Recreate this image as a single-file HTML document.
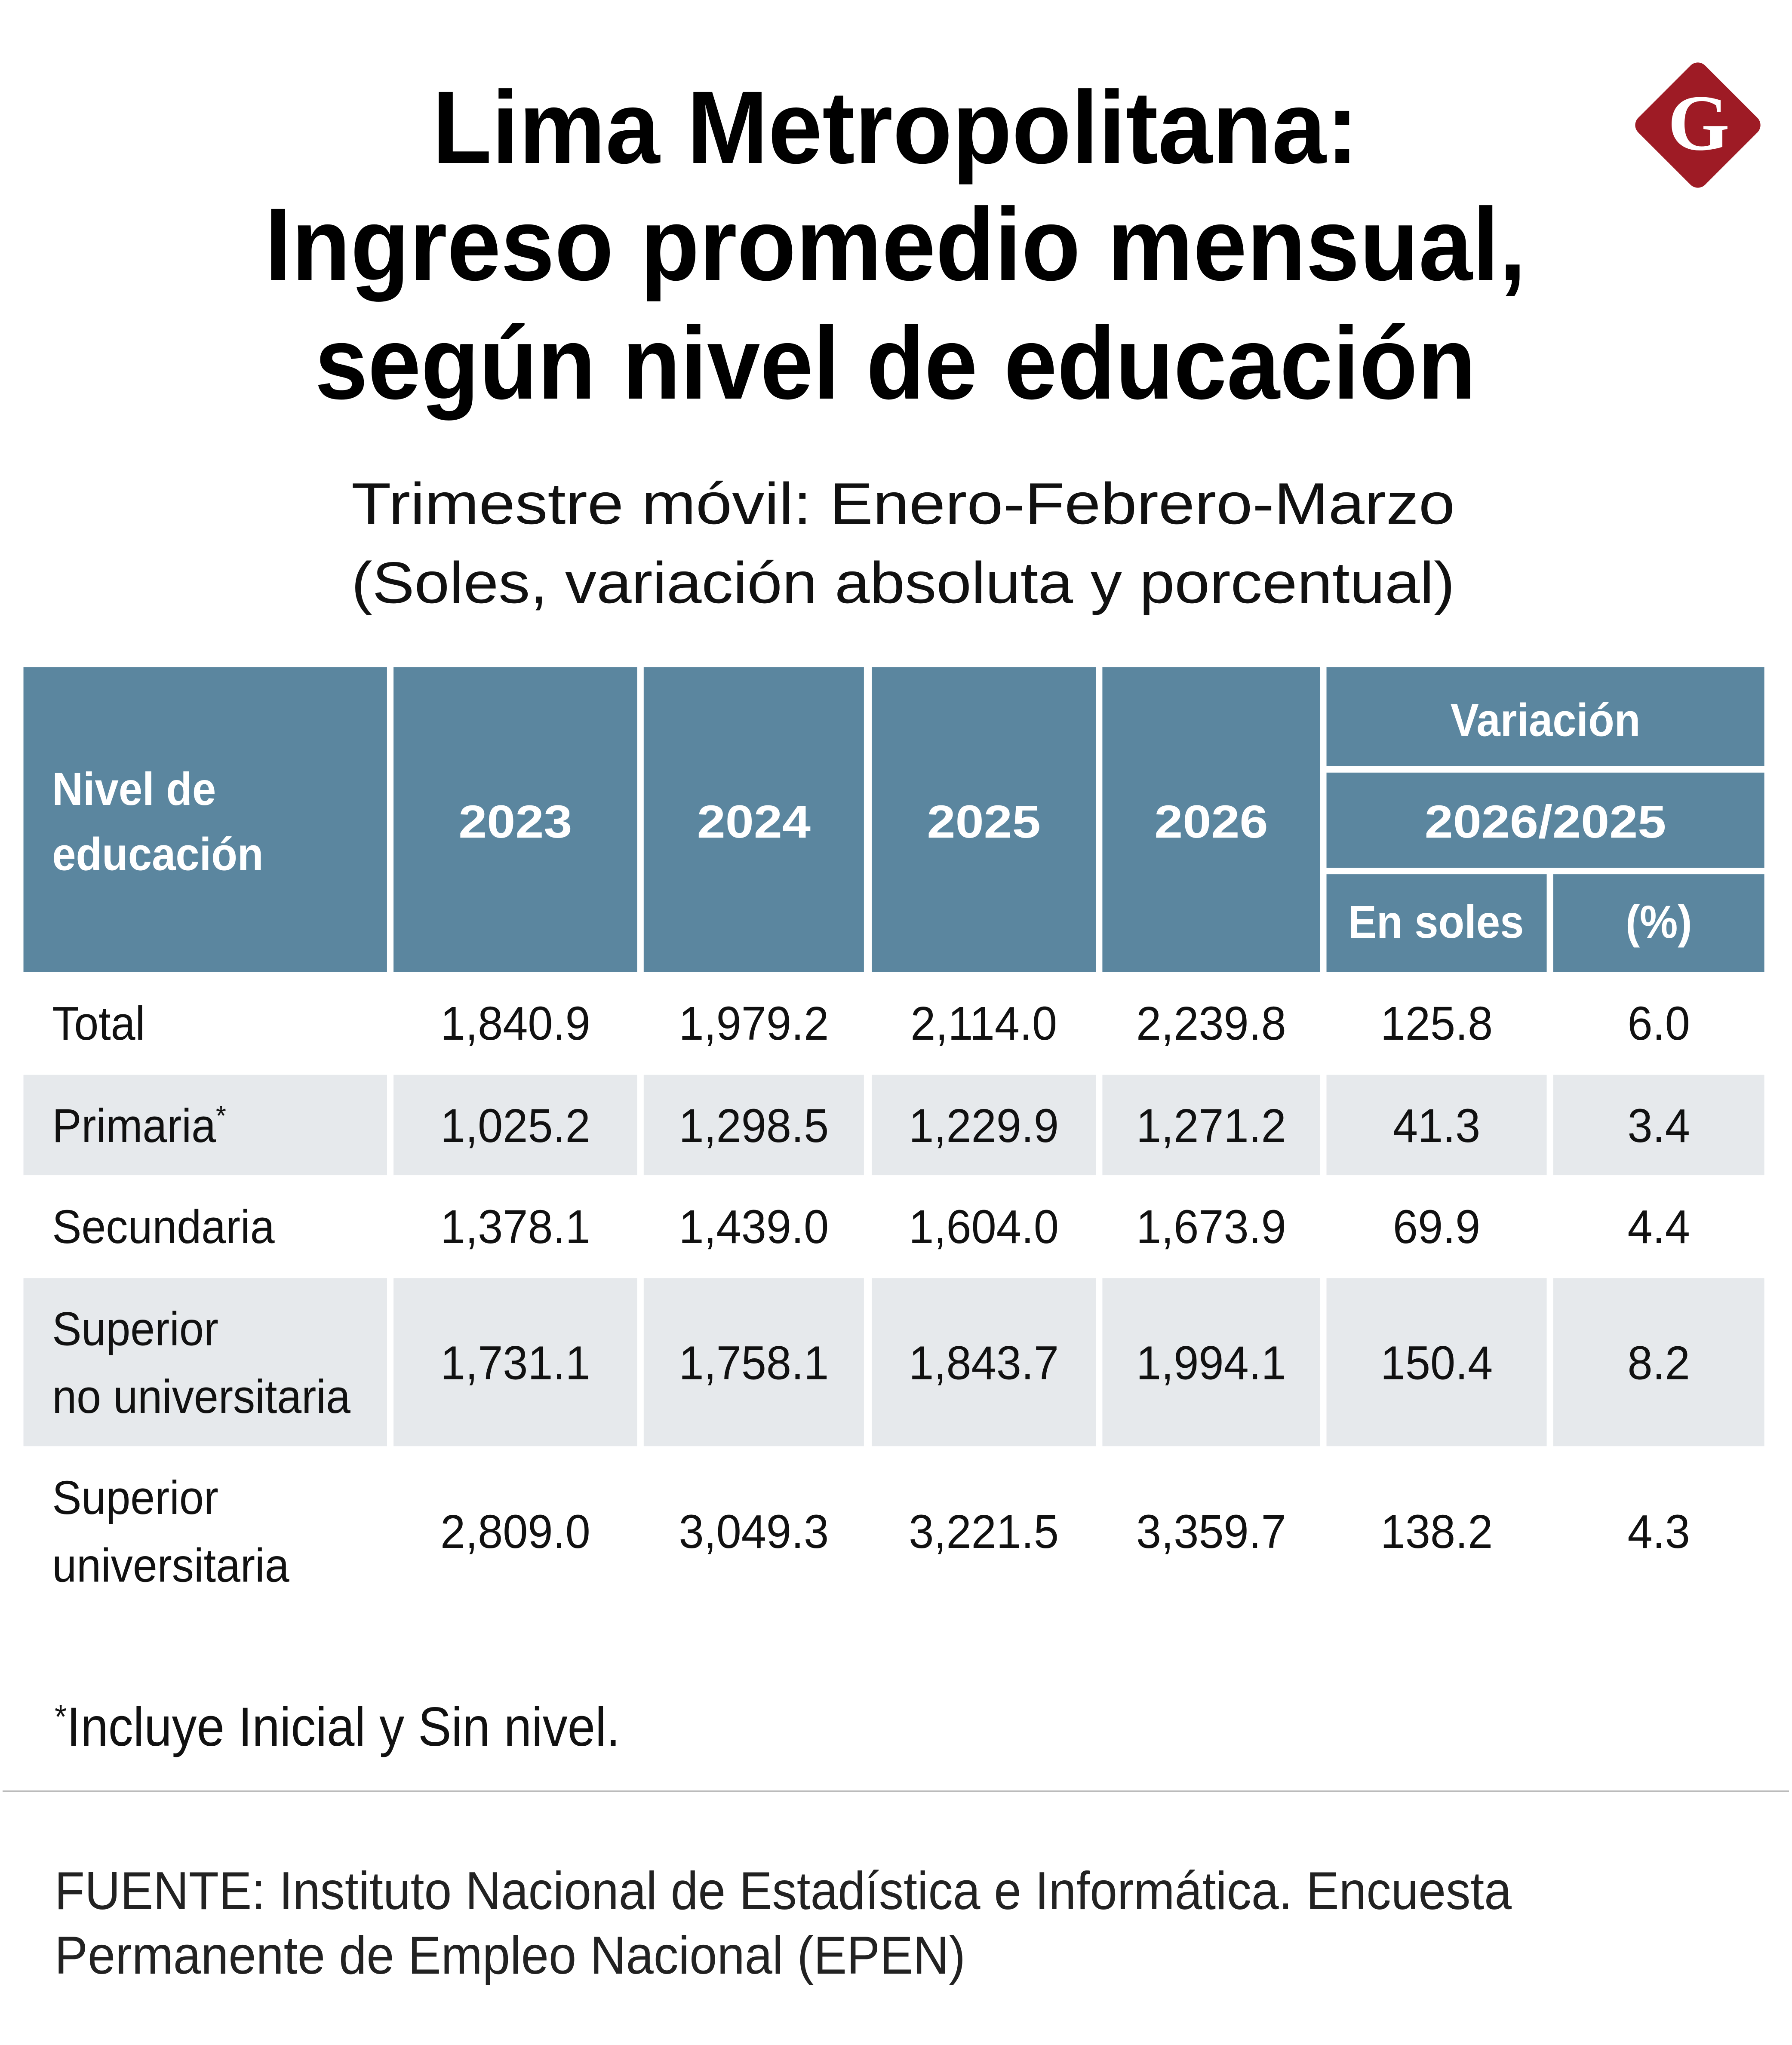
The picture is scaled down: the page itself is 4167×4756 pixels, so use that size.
<!DOCTYPE html>
<html><head><meta charset="utf-8">
<style>
html,body{margin:0;padding:0;background:#fff;}
svg{display:block;}
text{font-family:"Liberation Sans",sans-serif;}
</style></head>
<body>
<svg id="s" width="4167" height="4756" viewBox="0 0 4167 4756" xmlns="http://www.w3.org/2000/svg">
<rect width="4167" height="4756" fill="#fff"/>
<g font-weight="bold" font-size="240" fill="#000" text-anchor="middle">
<text x="2082" y="379" textLength="2154" lengthAdjust="spacingAndGlyphs">Lima Metropolitana:</text>
<text x="2082" y="651" textLength="2933" lengthAdjust="spacingAndGlyphs">Ingreso promedio mensual,</text>
<text x="2082" y="927" textLength="2700" lengthAdjust="spacingAndGlyphs">según nivel de educación</text>
</g>
<g font-size="136" fill="#111" text-anchor="middle">
<text x="2100" y="1218" textLength="2566" lengthAdjust="spacingAndGlyphs">Trimestre móvil: Enero-Febrero-Marzo</text>
<text x="2100" y="1402" textLength="2566" lengthAdjust="spacingAndGlyphs">(Soles, variación absoluta y porcentual)</text>
</g>
<g>
<rect x="3838" y="181" width="220" height="220" rx="24" fill="#9e1b25" transform="rotate(45 3948 291)"/>
<text x="3950" y="348" style="font-family:'Liberation Serif',serif" font-weight="bold" font-size="185" fill="#fff" text-anchor="middle">G</text>
</g>
<g id="tbl"></g>
<text x="127" y="4060" font-size="128" fill="#111" textLength="1315" lengthAdjust="spacingAndGlyphs"><tspan font-size="80" dy="-40">*</tspan><tspan dy="40">Incluye Inicial y Sin nivel.</tspan></text>
<line x1="6" y1="4166" x2="4160" y2="4166" stroke="#bbb" stroke-width="4"/>
<g font-size="124" fill="#222">
<text x="127" y="4440" textLength="3388" lengthAdjust="spacingAndGlyphs">FUENTE: Instituto Nacional de Estadística e Informática. Encuesta</text>
<text x="127" y="4590" textLength="2118" lengthAdjust="spacingAndGlyphs">Permanente de Empleo Nacional (EPEN)</text>
</g>
</svg>
<script>
const categories = [["Total"], ["Primaria*"], ["Secundaria"], ["Superior", "no universitaria"], ["Superior", "universitaria"]];
const years = ["2023", "2024", "2025", "2026"];
const v2023 = ["1,840.9", "1,025.2", "1,378.1", "1,731.1", "2,809.0"];
const v2024 = ["1,979.2", "1,298.5", "1,439.0", "1,758.1", "3,049.3"];
const v2025 = ["2,114.0", "1,229.9", "1,604.0", "1,843.7", "3,221.5"];
const v2026 = ["2,239.8", "1,271.2", "1,673.9", "1,994.1", "3,359.7"];
const varSoles = ["125.8", "41.3", "69.9", "150.4", "138.2"];
const varPct = ["6.0", "3.4", "4.4", "8.2", "4.3"];

const NS = "http://www.w3.org/2000/svg";
const g = document.getElementById("tbl");
const S = 3.03;
const colL = [18, 302, 494, 669, 846, 1018, 1192];
const colR = [297, 489, 663, 841, 1013, 1187, 1354];
const rowTop = [746, 825, 902, 981, 1110];
const rowBot = [824, 902, 980, 1110, 1240];
const HEAD = "#5b869f", GRAY = "#e6e9ec";

function mk(tag, attrs) {
  const e = document.createElementNS(NS, tag);
  for (const k in attrs) e.setAttribute(k, attrs[k]);
  g.appendChild(e);
  return e;
}
function txt(str, x, y, size, bold, anchor, fill, cond) {
  const t = mk("text", {x: x, y: y, "font-size": size, "font-weight": bold ? "bold" : "normal", "text-anchor": anchor, fill: fill});
  if (str.endsWith("*")) {
    const a = document.createElementNS(NS, "tspan");
    a.textContent = str.slice(0, -1);
    t.appendChild(a);
    const b = document.createElementNS(NS, "tspan");
    b.setAttribute("font-size", size * 0.6);
    b.setAttribute("dy", -size * 0.35);
    b.textContent = "*";
    t.appendChild(b);
  } else {
    t.textContent = str;
  }
  const w = t.getComputedTextLength();
  t.setAttribute("textLength", (w * cond).toFixed(1));
  t.setAttribute("lengthAdjust", "spacingAndGlyphs");
  return t;
}

for (let c = 0; c < 5; c++) {
  const r = mk("rect", {x: colL[c] * S, y: 512 * S, width: (colR[c] - colL[c]) * S, height: (746 - 512) * S, fill: HEAD});
  
  
}
const hv = [[1018, 1354, 512, 588], [1018, 1354, 593, 666], [1018, 1187, 671, 746], [1192, 1354, 671, 746]];
hv.forEach((h, i) => {
  const r = mk("rect", {x: h[0] * S, y: h[2] * S, width: (h[1] - h[0]) * S, height: (h[3] - h[2]) * S, fill: HEAD});
  
  
});
const HF = 108, BF = 110, CL = 0.92, CN = 1.1;
let t;
t = txt("Nivel de", 40 * S, 605 * S + 0.36 * HF, HF, true, "start", "#fff", CL);


t = txt("educación", 40 * S, 655 * S + 0.36 * HF, HF, true, "start", "#fff", CL);


years.forEach((y, i) => {
  const cx = (colL[i + 1] + colR[i + 1]) / 2 * S;
  const e = txt(y, cx, 630 * S + 0.36 * HF, HF, true, "middle", "#fff", CN);
  
  
});
t = txt("Variación", 1186 * S, 552 * S + 0.36 * HF, HF, true, "middle", "#fff", CL);


t = txt("2026/2025", 1186 * S, 630 * S + 0.36 * HF, HF, true, "middle", "#fff", CN);


t = txt("En soles", 1102 * S, 707 * S + 0.36 * HF, HF, true, "middle", "#fff", CL);


t = txt("(%)", 1273 * S, 707 * S + 0.36 * HF, HF, true, "middle", "#fff", CL);



const cols = [v2023, v2024, v2025, v2026, varSoles, varPct];
categories.forEach((cat, r) => {
  const top = rowTop[r], bot = rowBot[r], mid = (top + bot) / 2;
  if (r % 2 === 1) {
    for (let c = 0; c < 7; c++) {
      const rc = mk("rect", {x: colL[c] * S, y: top * S, width: (colR[c] - colL[c]) * S, height: (bot - top) * S, fill: GRAY});
      
      
    }
  }
  if (cat.length === 1) {
    const e = txt(cat[0], 40 * S, mid * S + 0.36 * BF, BF, false, "start", "#111", 0.93);
    
    
  } else {
    cat.forEach((ln, k) => {
      const e = txt(ln, 40 * S, (mid + (k === 0 ? -26 : 26)) * S + 0.36 * BF, BF, false, "start", "#111", 0.93);
      
      
    });
  }
  cols.forEach((arr, c) => {
    const cx = (colL[c + 1] + colR[c + 1]) / 2 * S;
    const e = txt(arr[r], cx, mid * S + 0.36 * BF, BF, false, "middle", "#111", 0.95);
    
    
  });
});
</script>
</body></html>
